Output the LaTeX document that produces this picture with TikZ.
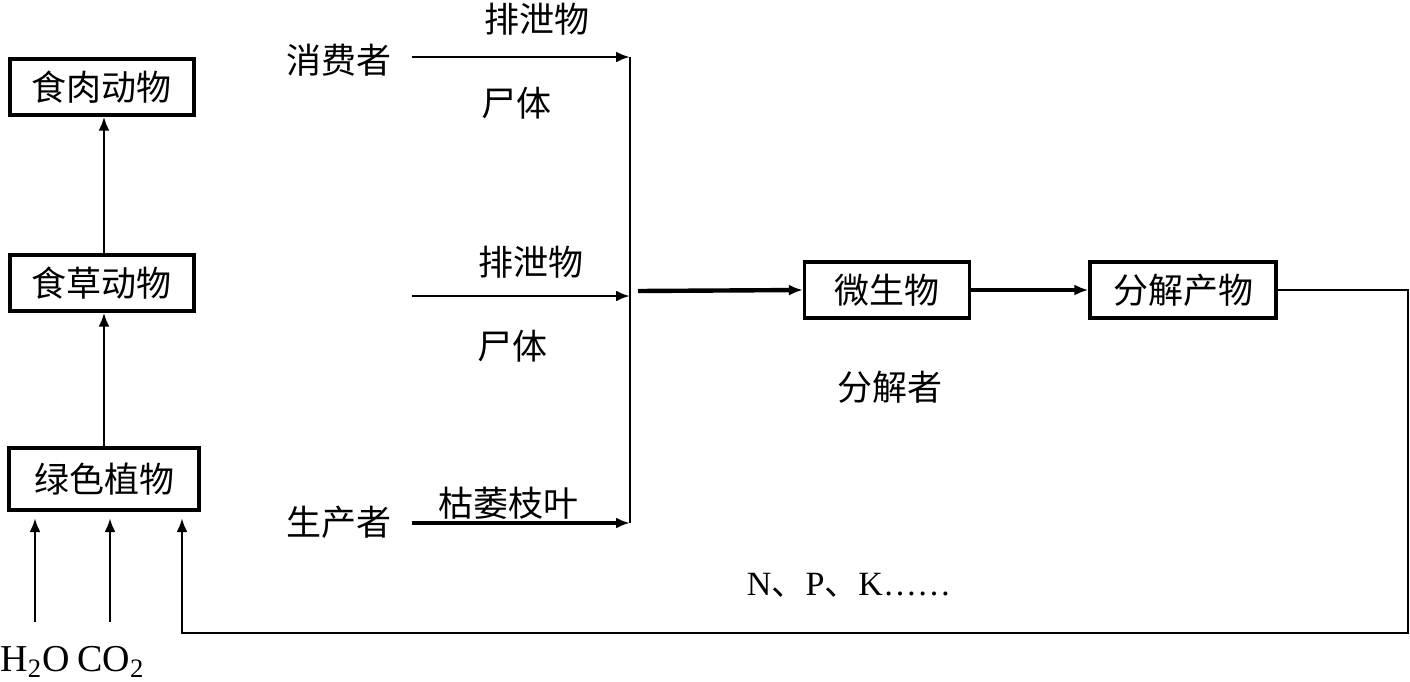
\documentclass[tikz,border=0pt]{standalone}
\usepackage{fontspec}
\setmainfont{Liberation Serif}
\newfontfamily\cjk{Noto Sans CJK SC}
\usetikzlibrary{arrows.meta}

\begin{document}
\begin{tikzpicture}[
  x=0.5pt, y=-0.5pt,
  >={Latex[length=7pt,width=5.5pt]},
  cycbox/.style = {draw, line width=1.6pt, minimum height=28pt, inner sep=0pt,
    font=\cjk\fontsize{17.5}{20}\selectfont},
  cyctxt/.style = {inner sep=0pt, font=\cjk\fontsize{17.5}{20}\selectfont},
  cycchem/.style = {inner sep=0pt, font=\fontsize{19}{21}\selectfont},
  cycline/.style = {line width=1.4pt},
  cycbold/.style = {line width=2.2pt}
]
  \useasboundingbox (0,0) rectangle (1410,681);
  % 食物链
  \node[cycbox, minimum width=92pt] (meat) at (102,87) {食肉动物};
  \node[cycbox, minimum width=92pt] (herb) at (102,283) {食草动物};
  \node[cycbox, minimum width=95pt, minimum height=31pt] (plant) at (104,479) {绿色植物};
  \draw[->, cycline] (herb.north -| plant.north) -- (meat.south -| plant.north);
  \draw[->, cycline] (plant.north) -- (herb.south -| plant.north);
  % 原料
  \node[cycchem] (h2o) at (35,662) {H\textsubscript{2}O};
  \node[cycchem] (co2) at (111,662) {CO\textsubscript{2}};
  \coordinate (h2oin) at (35,518);
  \coordinate (co2in) at (110,518);
  \draw[->, cycline, shorten <=12pt] (h2o.north) -- (h2oin);
  \draw[->, cycline, shorten <=12pt] (co2.north -| co2in) -- (co2in);
  % 消费者与生产者
  \node[cyctxt] (consumer) at (339,60) {消费者};
  \node[cyctxt] (producer) at (339,522) {生产者};
  \node[cyctxt] (excr1) at (537,19) {排泄物};
  \node[cyctxt] (corpse1) at (516,103) {尸体};
  \node[cyctxt] (excr2) at (531,262) {排泄物};
  \node[cyctxt] (corpse2) at (512,346) {尸体};
  \node[cyctxt] (wither) at (508,503) {枯萎枝叶};
  \coordinate (c1) at (412,57);
  \coordinate (c2) at (412,296);
  \coordinate (c3) at (412,523);
  \coordinate (j1) at (630,57);
  \coordinate (j2) at (630,296);
  \coordinate (j3) at (630,523);
  \coordinate (jout) at (638,291);
  \draw[->, cycline] (c1) -- (j1);
  \draw[->, cycline] (c2) -- (j2);
  \draw[->, cycbold] (c3) -- (j3);
  \draw[cycline] (j1) -- (j3);
  % 分解者
  \node[cycbox, minimum width=82.5pt] (microbe) at (887,290) {微生物};
  \node[cycbox, minimum width=93pt] (product) at (1183,290) {分解产物};
  \node[cyctxt] (decomp) at (890,387) {分解者};
  \draw[->, cycbold] (jout) -- (microbe.west);
  \draw[->, cycbold] (microbe.east) -- (product.west);
  % 回到植物
  \node[inner sep=0pt, font=\fontsize{17}{20}\selectfont] (npk) at (849,585)
    {N{\cjk 、}P{\cjk 、}K……};
  \coordinate (loopcorner) at (1408,633);
  \coordinate (plantin) at (182,518);
  \draw[->, cycline] (product.east) -| (loopcorner) -| (plantin);
\end{tikzpicture}
\end{document}
